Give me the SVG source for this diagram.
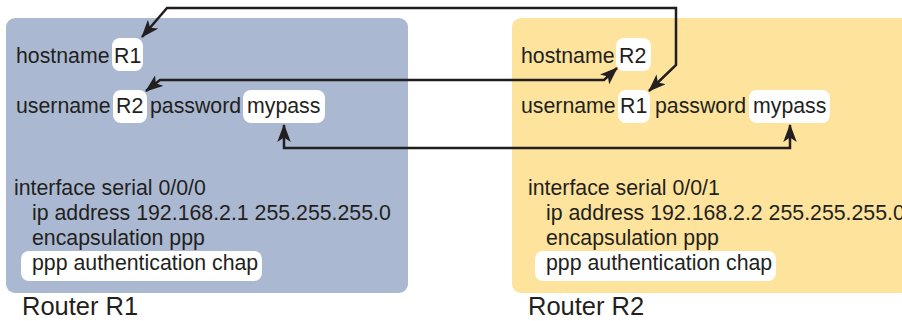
<svg xmlns="http://www.w3.org/2000/svg" width="902" height="321" viewBox="0 0 902 321">
<defs>
<style>
text{font-family:"Liberation Sans",Arial,Helvetica,sans-serif;fill:#231f20}
.t{font-size:21.3px}
.lbl{font-size:25.5px}
.pill{fill:#ffffff}
.conn{fill:none;stroke:#231f20;stroke-width:2.5;stroke-linejoin:miter}
</style>
<marker id="ah" viewBox="0 0 16 12" refX="15" refY="6" markerWidth="18" markerHeight="13.5" markerUnits="userSpaceOnUse" orient="auto-start-reverse">
<path d="M0,0 L16,6 L0,12 L4,6 z" fill="#231f20"/>
</marker>
</defs>
<rect width="902" height="321" fill="#ffffff"/>
<g id="router-r1">
<rect x="6" y="18" width="402" height="275" rx="9" fill="#aab9d1"/>
<rect class="pill" x="112" y="38" width="31" height="33" rx="8"/>
<rect class="pill" x="113" y="90" width="34" height="33" rx="8"/>
<rect class="pill" x="243" y="90" width="82" height="33" rx="8"/>
<rect class="pill" x="21" y="251" width="241" height="30" rx="8"/>
<text class="t" x="16" y="63">hostname</text>
<text class="t" x="114" y="63">R1</text>
<text class="t" x="16" y="113">username</text>
<text class="t" x="116" y="113">R2</text>
<text class="t" x="150" y="113">password</text>
<text class="t" x="247" y="113">mypass</text>
<text class="t" x="14" y="195">interface serial 0/0/0</text>
<text class="t" x="32" y="220">ip address 192.168.2.1 255.255.255.0</text>
<text class="t" x="32" y="245">encapsulation ppp</text>
<text class="t" x="32" y="270">ppp authentication chap</text>
<text class="lbl" x="22" y="315">Router R1</text>
</g>
<g id="router-r2">
<rect x="512" y="18" width="400" height="275" rx="9" fill="#fde39c"/>
<rect class="pill" x="616" y="38" width="35" height="33" rx="8"/>
<rect class="pill" x="618" y="90" width="32" height="33" rx="8"/>
<rect class="pill" x="749" y="90" width="81" height="33" rx="8"/>
<rect class="pill" x="535" y="251" width="241" height="30" rx="8"/>
<text class="t" x="521" y="63">hostname</text>
<text class="t" x="619" y="63">R2</text>
<text class="t" x="521" y="113">username</text>
<text class="t" x="620" y="113">R1</text>
<text class="t" x="655" y="113">password</text>
<text class="t" x="753" y="113">mypass</text>
<text class="t" x="528" y="195">interface serial 0/0/1</text>
<text class="t" x="546" y="220">ip address 192.168.2.2 255.255.255.0</text>
<text class="t" x="546" y="245">encapsulation ppp</text>
<text class="t" x="546" y="270">ppp authentication chap</text>
<text class="lbl" x="528" y="315">Router R2</text>
</g>
<g id="connectors">
<path class="conn" d="M142,37 L167,8 L676,8 L676,65 L649,91" marker-start="url(#ah)" marker-end="url(#ah)"/>
<path class="conn" d="M146,91 L160,80 L604,80 L617,68" marker-start="url(#ah)" marker-end="url(#ah)"/>
<path class="conn" d="M284,125 L284,148 L790,148 L790,125" marker-start="url(#ah)" marker-end="url(#ah)"/>
</g>
</svg>
